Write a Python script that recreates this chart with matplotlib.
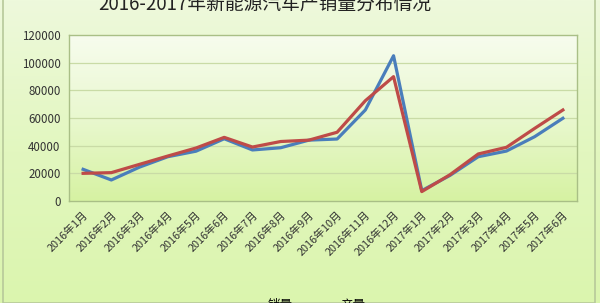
#!/usr/bin/env python3
"""2016-2017 new energy vehicle sales/production line chart"""

import numpy as np
import matplotlib
matplotlib.use('Agg')
import matplotlib.pyplot as plt
from matplotlib.colors import LinearSegmentedColormap
from matplotlib.patches import Rectangle

plt.rcParams['font.family'] = ['Noto Sans CJK SC', 'DejaVu Sans']

MONTHS = ['2016年1月', '2016年2月', '2016年3月', '2016年4月', '2016年5月', '2016年6月',
          '2016年7月', '2016年8月', '2016年9月', '2016年10月', '2016年11月', '2016年12月',
          '2017年1月', '2017年2月', '2017年3月', '2017年4月', '2017年5月', '2017年6月']
SALES = [22900, 15200, 24500, 32000, 36000, 45000, 36900, 38500, 44000, 44800, 65800, 105000,
         7500, 18500, 32000, 36100, 46500, 59800]
PRODUCTION = [20000, 20500, 26500, 32500, 38300, 46000, 39000, 43000, 44000, 49700, 72500, 89900,
              6800, 19000, 34000, 38800, 52500, 65800]
YTICKS = [0, 20000, 40000, 60000, 80000, 100000, 120000]

BLUE = '#4a7ebb'
RED = '#be4b48'

fig = plt.figure(figsize=(6, 3.03), dpi=100)

# outer chart background gradient
bg = fig.add_axes([0, 0, 1, 1], zorder=-10)
bg_cmap = LinearSegmentedColormap.from_list('bg', ['#eef9dc', '#e2f7bf', '#dbf5ae'])
bg.imshow(np.linspace(0, 1, 256).reshape(-1, 1), cmap=bg_cmap, aspect='auto',
          extent=[0, 1, 0, 1])
bg.set_xlim(0, 1)
bg.set_ylim(0, 1)
bg.axis('off')
fig.patches.append(Rectangle((3 / 600, 0), 592 / 600, 1.2, transform=fig.transFigure,
                             fill=False, edgecolor='#b7c99a', linewidth=1.2))

ax = fig.add_axes([69 / 600, 1 - 201 / 303, 508 / 600, 166 / 303])
x = np.arange(len(MONTHS))

# plot area: pale at top, greener at bottom
pa_cmap = LinearSegmentedColormap.from_list('pa', ['#f7fcee', '#e9f8cf', '#d6f2a2'])
ax.imshow(np.linspace(0, 1, 256).reshape(-1, 1), cmap=pa_cmap, aspect='auto',
          extent=[-0.5, len(MONTHS) - 0.5, 0, 120000], origin='upper', zorder=0)

for yv in YTICKS[1:-1]:
    ax.axhline(yv, color='#c9dba6', linewidth=0.9, zorder=1)

ax.plot(x, SALES, color=BLUE, linewidth=2.3, label='销量', zorder=3)
ax.plot(x, PRODUCTION, color=RED, linewidth=2.3, label='产量', zorder=4)

ax.set_xlim(-0.5, len(MONTHS) - 0.5)
ax.set_ylim(0, 120000)
ax.set_yticks(YTICKS)
ax.set_yticklabels([str(v) for v in YTICKS], fontsize=8.3, color='#333333')
ax.set_xticks(x)
ax.set_xticklabels(MONTHS, rotation=45, ha='right', rotation_mode='anchor',
                   fontsize=7.8, color='#333333')
ax.tick_params(length=0, pad=6)
for spine in ax.spines.values():
    spine.set_color('#a9bf86')
    spine.set_linewidth(1.0)

fig.text(265 / 600, 1 - 10 / 303, '2016-2017年新能源汽车产销量分布情况',
         ha='center', va='baseline', fontsize=13.5, color='#222222')

fig.legend(loc='center', bbox_to_anchor=(296 / 600, -2 / 303), ncol=2, frameon=False,
           fontsize=9, handlelength=2.5, columnspacing=0.6)

fig.savefig('out.png', dpi=100)
plt.close(fig)
